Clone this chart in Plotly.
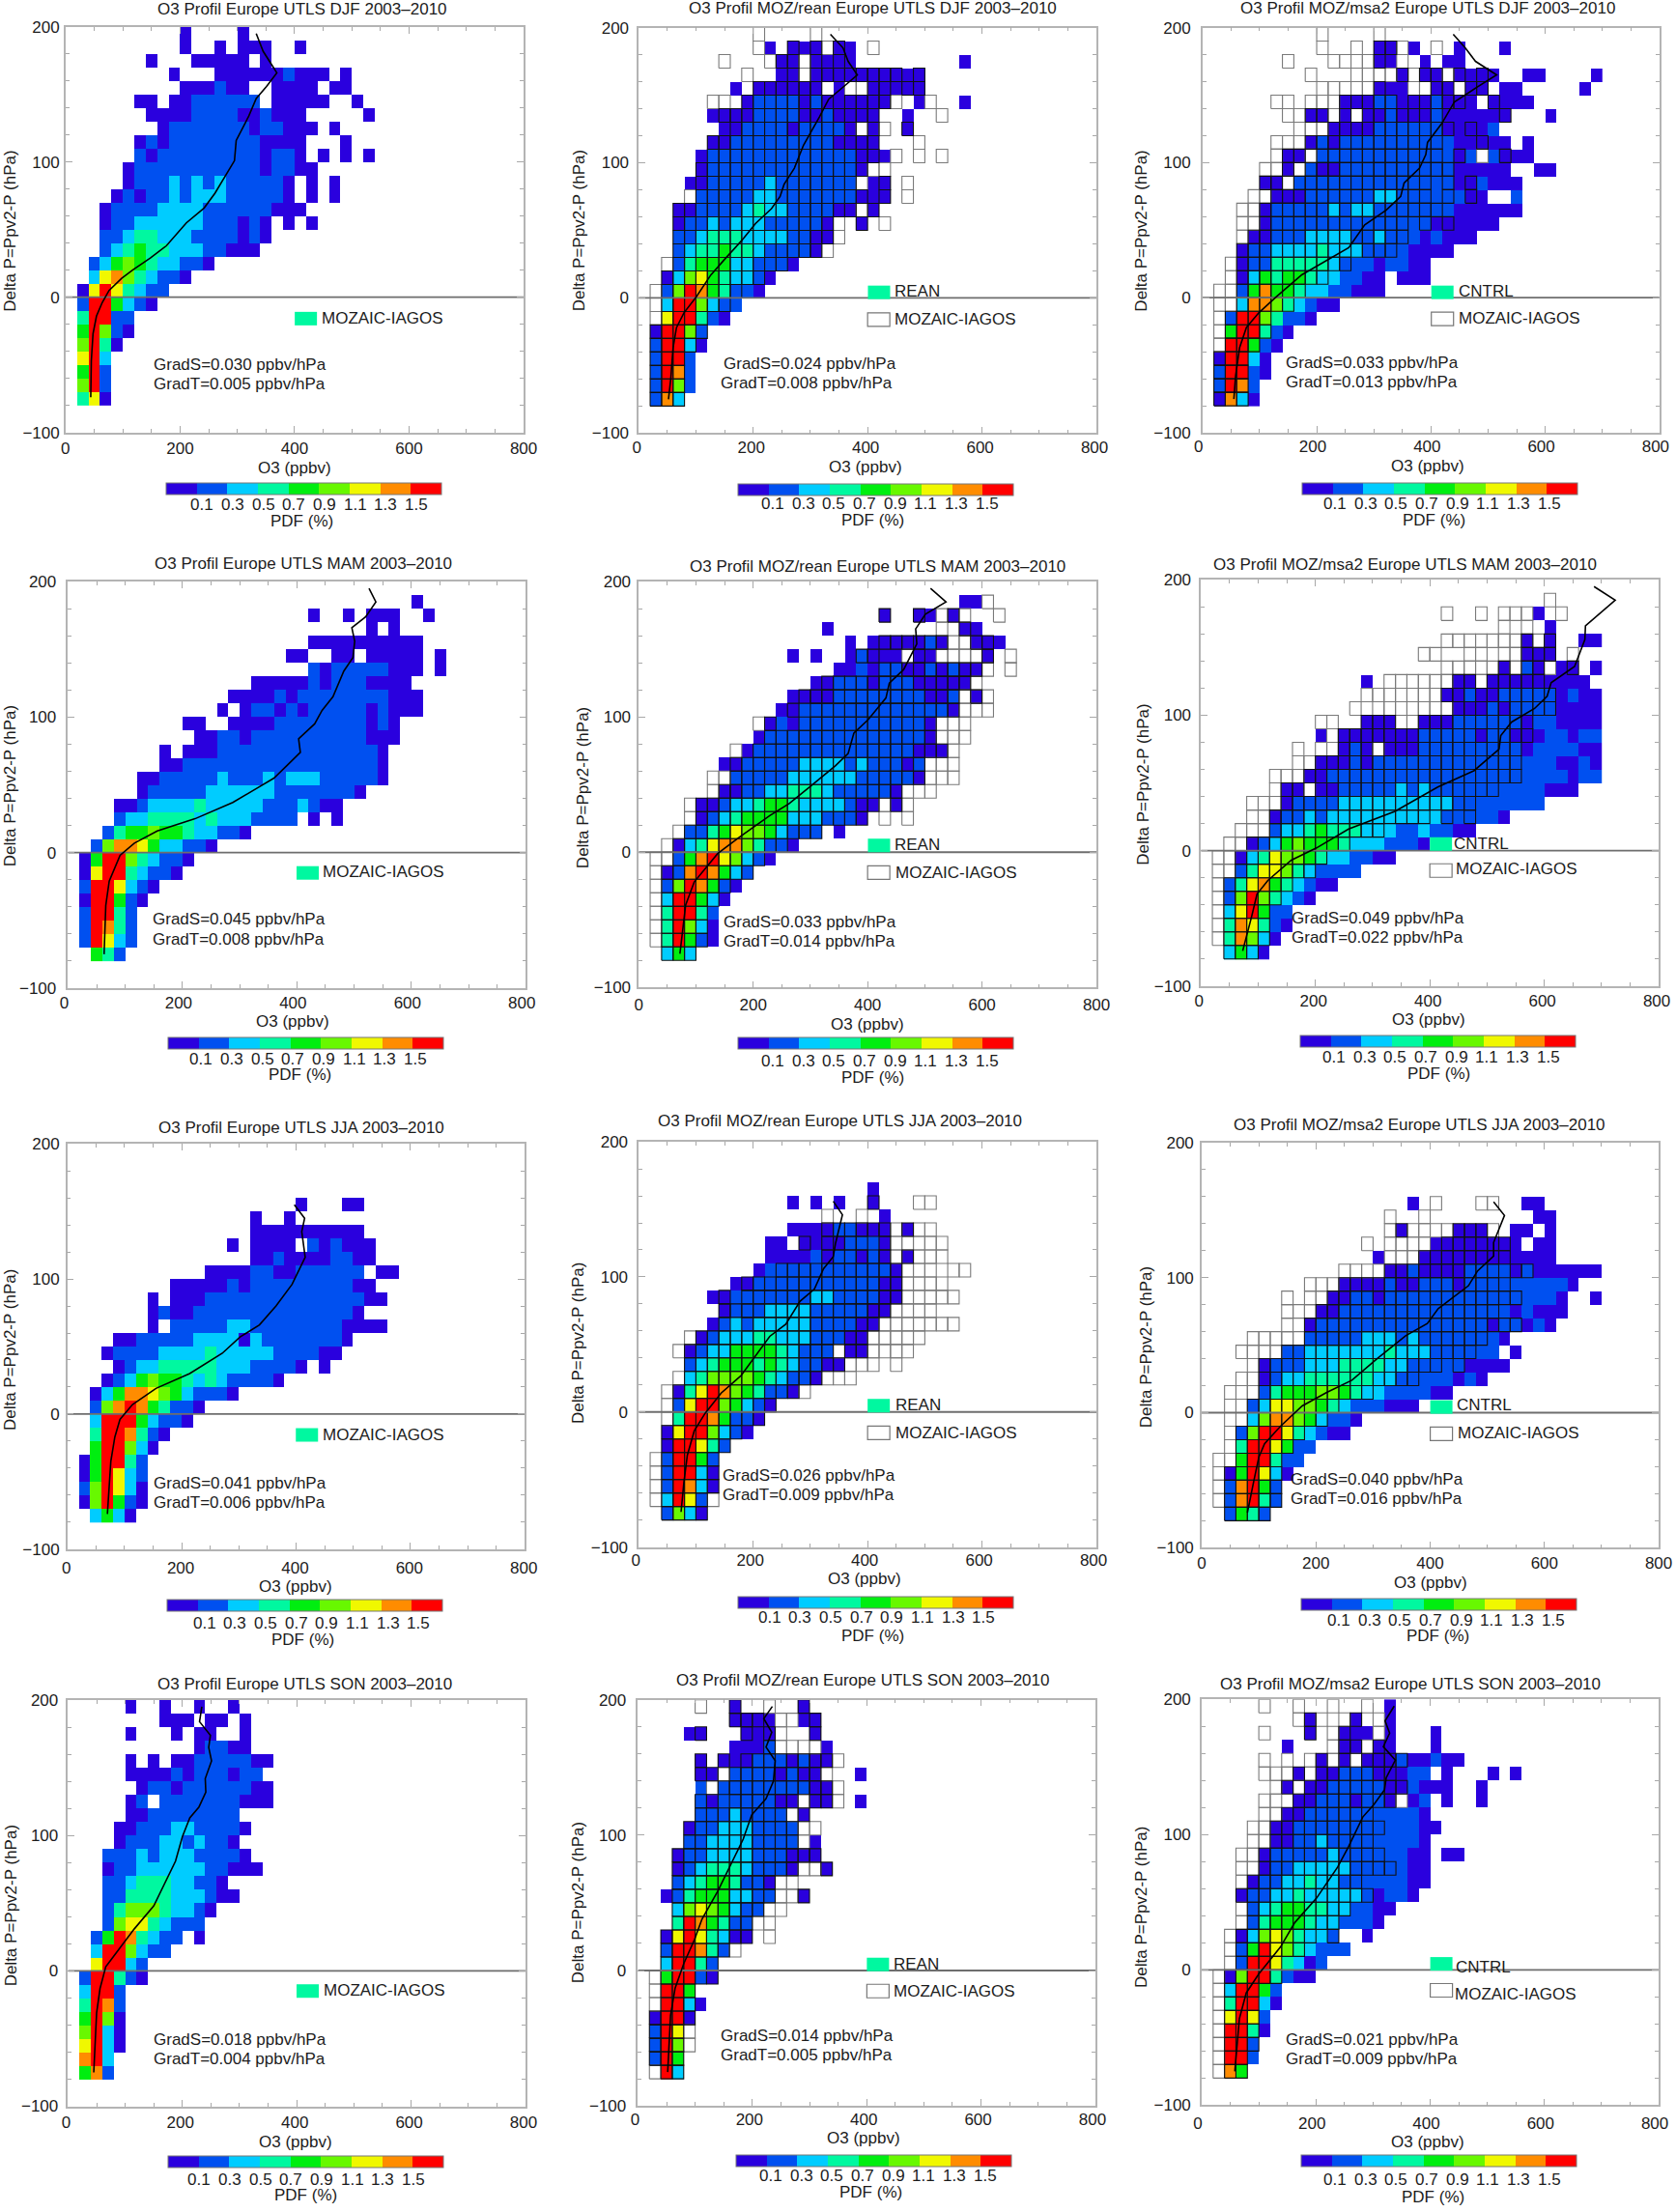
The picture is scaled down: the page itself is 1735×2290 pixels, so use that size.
import plotly.graph_objects as go

W, H = 1735, 2290
FONT = "Liberation Sans"
FS = 17
TXT = "#1c1c1c"

# colour classes of the PDF scale, lowest to highest
PDF_LEVELS = [0.0, 0.2, 0.4, 0.6, 0.8, 1.0, 1.2, 1.4, 1.6]
PDF_COLORS = ["#2a00de", "#0050f0", "#00ccff", "#00f8a0", "#00ee10",
              "#68f800", "#f0f800", "#ff8c00", "#ff0000"]
PDF_TICKS = [0.1, 0.3, 0.5, 0.7, 0.9, 1.1, 1.3, 1.5]

O3_EDGES = list(range(0, 720, 20))
DP_EDGES = list(range(-80, 210, 10))

# one string per row, top row first (190-200 hPa), "column:classes"
# column = O3 bin number (20 ppbv bins), classes = index into PDF_LEVELS
DJF_OBS = [
    "10:0 15:0", "10:0 13:0 15:000 20:0", "7:0 11:00000 17:0",
    "9:0 13:000000 19:1 20:000 24:0", "10:000 13:1 14:00 18:0000 23:00",
    "6:00 9:00 11:11111 16:1 18:00000 25:0", "7:0000 11:1111 15:00 17:1 18:000 26:0",
    "8:0 9:1111111 16:0 17:11 19:000 23:0", "6:0 7:1 8:0 9:11111111 17:0000 24:0",
    "6:1 7:0 8:111111111 17:0 18:11 20:0 22:0 24:0 26:0", "5:0 6:11111111111 17:0 18:11 20:00",
    "5:0 6:111 9:2 10:1 11:2 12:1 13:2 14:11111 19:0 21:0 23:0",
    "4:0 5:1 6:0 7:11 9:2 10:1 11:222 14:11111 19:0 21:0 23:0",
    "3:0 4:1111 8:2222 12:111111 18:000", "3:0 4:11 6:222222 12:111 15:0 16:1 17:0 19:0 21:0",
    "3:11 5:2 6:33 8:222 11:1111 15:0 16:1 17:0", "3:1 4:2 5:3 6:4 7:33 9:222 12:11 14:000",
    "2:1 3:2 4:4 5:5 6:4 7:3 8:22 10:11 12:0", "2:2 3:6 4:7 5:5 6:3 7:2 8:11 10:0",
    "1:0 2:6 3:8 4:6 5:3 6:2 7:11", "1:1 2:88 4:4 5:2 6:1 7:0", "1:3 2:88 4:11",
    "1:4 2:8 3:5 4:1 5:0", "1:5 2:8 3:3 4:0", "1:6 2:8 3:2", "1:4 2:8 3:1", "1:5 2:8 3:1", "1:3 2:6 3:0",
]
DJF_REAN = [
    "", "11:0 13:000 17:00", "12:00 15:0000 28:0", "12:00 15:0000000000",
    "8:0 10:000000 17:0 20:00000", "9:0 10:1111 14:0 15:1 16:000000 24:0 28:0",
    "6:0000 10:1111 14:00 16:1 17:0000 23:0", "7:00 9:1111 13:0 14:1111 18:0 20:0 23:0",
    "6:00 8:111111111 17:0000", "5:0 6:1111111111111 19:000", "5:0 6:1111111111111 19:0",
    "4:00 6:11111 11:2 12:1111111 20:00", "5:11111 10:22 12:1111111 19:000",
    "3:00 5:1111 9:2 10:3 11:22 13:1111 17:00 20:0", "3:0 4:11 6:2 7:1 8:222 11:11111 16:0 19:0",
    "3:11 5:2 6:333 9:2222 13:11 15:00", "3:1 4:2 5:33 7:4 8:33 10:2 11:1111 15:0",
    "3:1 4:3 5:444 8:22 10:111 13:0", "2:0 3:2 4:5 5:6 6:4 7:3 8:22 10:1 11:0",
    "2:1 3:5 4:8 5:7 6:4 7:3 8:11 10:0", "2:2 3:88 5:5 6:2 7:11", "2:6 3:88 5:3 6:1 7:0",
    "1:0 2:88 4:5 5:1", "1:1 2:88 4:2 5:0", "1:1 2:88 4:1", "1:1 2:8 3:7 4:1", "1:1 2:8 3:5 4:1", "1:1 2:7 3:2",
]
DJF_MSA2 = [
    "", "15:00 18:0 22:0 26:0", "15:00 19:0 21:00", "17:0 19:00 22:0000 28:00 34:0",
    "15:000 20:00 23:00 26:00 33:0", "12:000 15:11 17:000 20:1 21:000 25:0000",
    "9:00 12:0 14:00 16:1 17:000 20:1 21:000000 30:0", "11:0000 15:111111 21:0 22:000 25:1",
    "9:0 10:1 11:0 12:1111111111 22:00000 28:0",
    "7:00 10:1 11:1 12:111111111 21:1 22:0 23:1 25:1 26:000", "7:0 9:1 10:00 12:1111111111 22:00000 29:00",
    "5:00 8:11111111111111 22:00 24:1 25:000", "6:000 9:111111 15:22 17:111111 23:00 27:1",
    "5:0 6:11111 11:2 12:1 13:22 15:1111111 22:000000", "5:0 6:11111111111111 20:00 22:0000",
    "4:00 6:111 9:2222 13:11 15:2 16:111 19:0 20:1 21:000",
    "3:0 4:11 6:2222 10:3 11:222 14:1111 18:00 20:00",
    "3:0 4:11 6:33333 11:2 12:111 15:0 16:11 18:00", "3:0 4:2 5:4 6:3 7:44 9:3 10:22 12:11 14:00 17:000",
    "3:1 4:4 5:7 6:44 8:3 9:22 11:11 13:000", "3:2 4:77 6:5 7:3 8:2 9:1 10:00",
    "2:1 3:88 5:5 6:3 7:11 9:0", "2:4 3:88 5:3 6:1 7:0", "2:88 4:4 5:1 6:0", "1:0 2:88 4:2 5:0",
    "1:1 2:88 4:1 5:0", "1:1 2:8 3:7 4:1", "1:0 2:7 3:2 4:0",
]
MAM_OBS = [
    "", "30:0", "21:0 24:0 26:000 31:0", "26:0 28:0", "21:0000000000", "19:00 23:00 26:00000 32:0",
    "21:1 22:0 23:11111 28:000 32:0", "16:00000 21:1 22:0 23:111 26:0000",
    "14:0000 18:1 19:0 20:11111111 28:000", "13:0 15:0 16:11 18:0 19:1 20:0 21:11111 26:0 27:1 28:000",
    "10:00 14:0000 18:11111111 26:0 27:1 28:0", "11:00 13:11 15:0 16:1111111111 26:000",
    "8:0 10:000 13:11111111111111 27:0", "8:00 10:11111111111111111 27:0",
    "6:00 8:11111 13:2 14:111 17:2 18:1 19:222 22:11111 27:0", "6:0 7:11111 12:222222 18:1111111 25:0",
    "4:00 6:1 7:2222 11:3 12:22222 17:111 20:2 21:1 22:00", "4:1 5:22 7:3333 11:2 12:3 13:222 16:1111 21:0 23:0",
    "3:1 4:3 5:44 7:5 8:44 10:3 11:22 13:11 15:0", "2:1 3:5 4:77 6:6 7:4 8:22 10:11 12:0",
    "1:0 2:4 3:88 5:5 6:3 7:2 8:11 10:0", "1:0 2:6 3:88 5:3 6:2 7:11 9:0", "1:1 2:88 4:6 5:2 6:1 7:0",
    "1:0 2:88 4:4 5:1 6:0", "1:1 2:88 4:3 5:1", "1:1 2:8 3:7 4:3 5:1", "1:1 2:8 3:6 4:2 5:1", "2:4 3:3 4:1",
]
MAM_REAN = [
    "", "28:00", "21:0 24:00 27:0", "16:0 28:00", "18:0 20:00000 25:1 26:0 29:0 30:00",
    "13:0 15:0 18:0 19:1 20:000 24:00 30:0", "17:00 19:1 20:0 21:1 22:1 23:00 25:1 26:0 27:1 28:00",
    "15:00 17:111 20:0 21:111 24:00000", "13:0000 17:11111111 25:00 27:1 29:0",
    "12:00 14:1111111111111 27:0", "11:0 12:1 13:0 14:11111111111 25:0", "10:0 11:11111111111111 25:0",
    "9:0 10:11111111111111 24:000", "7:00 9:11111 14:2222 18:1 19:2 20:111 23:0 24:1",
    "8:11111 13:222222 19:11111 24:0", "7:00 9:11 11:22 13:333 16:2 17:11111 22:0",
    "5:00 7:1 8:22 10:3 11:44 13:3 14:2222 18:1 19:00 22:0", "5:0 6:1 7:2 8:3 9:4444 13:222 16:111 19:0",
    "4:11 6:3 7:4 8:6 9:55 11:4 12:2 13:111 17:0", "3:0 4:2 5:3 6:6 7:7 8:7 9:5 10:3 11:11 13:0",
    "3:1 4:4 5:7 6:8 7:6 8:5 9:2 10:1 11:0", "2:0 3:1 4:7 5:8 6:7 7:4 8:2 9:1", "2:1 3:5 4:8 5:7 6:4 7:1 8:0",
    "2:2 3:88 5:4 6:2 7:0", "2:3 3:88 5:3 6:1", "2:3 3:8 4:5 5:2 6:0", "2:3 3:8 4:4 5:1 6:0", "2:2 3:4 4:2",
]
MAM_MSA2 = [
    "", "", "29:0", "30:0", "28:0 30:0 33:00", "28:000", "26:0 28:1 29:0 31:00 34:0",
    "14:0 22:00 25:000000 31:000", "21:00 23:1 24:00 26:111 29:11 31:0 32:1 33:00",
    "22:000 25:1 26:0 27:1111 31:0000", "14:000 19:000 22:111111 28:0 29:111 31:0000",
    "10:0 12:0000000 19:11111 24:0 25:11 27:0 28:0 29:0 30:11 32:0 33:11",
    "12:0 13:1 14:0 16:000 19:111111111 28:0 29:1111 33:00", "10:000 13:1 14:0 15:1111111111111111 31:00 33:1 34:0",
    "9:00 11:1111111111111111111111 32:0 33:11", "7:00 10:00 12:11111 17:2 18:1 19:2 20:111111111111 30:000",
    "7:0 8:1111 12:2222222222 22:11111111", "6:0 7:11 9:2 10:1 11:2222222222 21:11111 26:0",
    "6:1 7:22 9:3 10:4 11:33 13:3 14:222 17:11 19:2 20:11 22:00", "4:0 5:1 6:2 7:4 8:5 9:44 11:4 12:3 13:222 16:111 19:0",
    "3:0 4:2 5:3 6:6 7:55 9:4 10:3 11:22 13:11 15:00", "3:1 4:3 5:66 7:5 8:3 9:2 10:1111",
    "2:1 3:3 4:6 5:7 6:4 7:3 8:2 9:1 10:00", "2:1 3:5 4:8 5:5 6:3 7:2 8:1 9:0", "2:2 3:6 4:8 5:4 6:11",
    "2:3 3:7 4:6 5:3 6:1 7:0", "2:3 3:7 4:5 5:2 6:0", "2:2 3:4 4:2 5:0",
]
JJA_OBS = [
    "", "", "", "", "20:0 24:00", "16:0 19:0", "16:0000000000", "14:0 16:0000 21:1 22:0 23:1 24:000",
    "16:00 18:1 19:0000 23:11 25:00", "12:0000 16:11 18:00 20:111111 27:00", "9:00000 14:1 15:0 16:111111111 25:00",
    "7:0 9:000 12:11111111111111 26:00", "7:0 8:1 9:00 11:11111111111111 25:0", "7:0 9:11111 14:22 16:11111111 24:0000",
    "4:00 6:11111 11:2222 15:0 16:2 17:1111111 24:0", "3:0 4:1111 8:2222 12:3 13:222 16:22 18:1111 22:00",
    "4:0 5:1 6:22 8:33333 13:222 16:1111 20:0 22:0", "3:0 4:1 5:2 6:4 7:5 8:44 10:3 11:2 12:3 13:2 14:1111 18:0",
    "2:0 3:2 4:4 5:77 7:6 8:5 9:4 10:2 11:111 14:0", "2:1 3:5 4:7 5:8 6:7 7:4 8:3 9:11 11:0",
    "2:2 3:888 6:4 7:2 8:11 10:0", "2:3 3:88 5:7 6:3 7:1 8:0", "2:4 3:88 5:5 6:2 7:0", "1:0 2:4 3:88 5:3 6:1",
    "1:0 2:4 3:8 4:6 5:2 6:1", "1:1 2:5 3:8 4:6 5:2 6:0", "1:0 2:5 3:8 4:4 5:1 6:0", "2:2 3:4 4:2 5:0",
]
JJA_REAN = [
    "", "", "", "20:0", "13:0 15:0 17:0 20:0", "21:0", "13:0000 17:11 19:000 23:0", "11:00 14:0000 18:111 21:0",
    "11:0000 15:1 16:00 17:11 19:0 20:1 21:0 23:0", "10:0 11:11111111111 22:0", "8:00 10:11111111111 21:00",
    "6:00 8:1111111 15:22 17:1111 21:00", "7:0 8:111 11:2222 15:11111 20:00", "6:0 7:1 8:2 9:1 10:22222 15:1111 19:00",
    "5:0 6:1 7:222 10:33 12:222 15:111 18:00", "4:0 5:1 6:22 8:4444 12:3 13:2 14:111 18:00",
    "4:1 5:2 6:3 7:444 10:3 11:4 12:3 13:2 14:11 16:00", "4:2 5:3 6:55 8:55 10:4 11:3 12:2 13:11 15:0",
    "3:0 4:3 5:6 6:8 7:7 8:5 9:4 10:3 11:11 13:0", "3:1 4:6 5:88 7:5 8:4 9:2 10:1 11:0", "3:3 4:88 6:7 7:4 8:11 10:0",
    "2:0 3:6 4:88 6:5 7:2 8:1 9:0", "2:0 3:88 5:6 6:3 7:1", "2:1 3:88 5:4 6:1", "2:1 3:88 5:2 6:0",
    "2:1 3:8 4:7 5:2 6:0", "2:2 3:8 4:6 5:1", "2:1 3:5 4:2 5:0",
]
JJA_MSA2 = [
    "", "", "", "", "18:0 28:00", "29:00", "17:0 22:000 27:00 30:0", "20:00000000 29:00",
    "15:0 19:000000000000", "16:00 18:1 19:0000 23:1111 27:0 28:1 29:0 30:00000", "12:0000 16:1 17:00 19:111 22:0 23:11111111 31:1 32:0",
    "11:00 13:11 15:0 16:111111111111111 31:0 34:0", "10:00 12:111111111111111 27:0 28:1 29:00 31:0",
    "9:0 10:111111111111111 25:0 26:11 28:0 29:1 30:0", "9:11111 14:222 17:1 18:2 19:1111111 26:0",
    "7:11 9:2222222 16:3 17:2 18:22 20:111111 27:0", "5:0 6:111 9:222 12:3333 16:22 18:11111 23:0 24:000",
    "5:0 6:1 7:22 9:333333 15:22 17:11111 22:0 23:1 24:0", "5:1 6:3 7:444 10:55 12:4 13:3 14:22 16:1111 20:00",
    "4:1 5:2 6:66 8:5 9:5 10:4 11:3 12:2 13:111 16:000", "4:2 5:5 6:77 8:5 9:4 10:2 11:11 13:0",
    "3:1 4:5 5:88 7:6 8:3 9:2 10:1 11:00", "3:3 4:88 6:6 7:4 8:11", "3:4 4:88 6:3 7:11", "2:0 3:4 4:8 5:6 6:2 7:0",
    "2:1 3:7 4:8 5:4 6:1", "2:1 3:7 4:8 5:3 6:1", "2:1 3:4 4:3 5:1",
]
SON_OBS = [
    "5:0 8:0 11:0 14:0", "8:000 12:00 15:0", "5:0 9:0 11:00 15:0", "11:0 12:11 14:00", "5:0 7:0 9:00 11:11 13:111 16:00",
    "5:0000 9:1 10:0 11:111 14:0 15:11", "6:0 7:11 9:0 10:111111 16:00", "5:0 6:1 8:1111111 15:000", "5:00 7:11111111",
    "4:00 6:111 9:22 11:1111 15:0", "4:0 5:111 8:22 10:1 11:2 12:11 14:0", "3:111 6:2 7:1 8:222 11:1111 15:0",
    "3:0 4:11 6:222222 12:11 14:000", "3:11 5:2 6:333 9:22 11:11 13:0", "3:11 5:3333 9:222 12:1 13:00",
    "3:1 4:3 5:555 8:3 9:22 11:1 12:0", "3:1 4:5 5:66 7:3 8:2 9:111", "2:1 3:4 4:8 5:7 6:3 7:2 8:11 11:0",
    "2:2 3:88 5:5 6:2 7:11", "2:6 3:88 5:2 6:1", "1:1 2:88 4:3 5:1 6:0", "1:2 2:88 4:1", "1:3 2:8 3:7 4:1",
    "1:4 2:8 3:5 4:0", "1:5 2:8 3:2 4:0", "1:6 2:8 3:2 4:0", "1:7 2:8 3:2", "1:4 2:7 3:1",
]
SON_REAN = [
    "8:0 14:0", "8:0000 14:00", "4:00 9:000 15:0", "8:000 11:1 16:0", "5:0 7:000 10:111 13:0 14:1 15:00",
    "5:00 8:1111 12:0 13:1 14:00 19:0", "5:1 7:1111111 14:1 15:00", "5:1 6:0 7:11111 12:00 15:00 19:0",
    "5:111 8:2 9:1111 14:0", "4:0 5:11 7:222 10:1111", "4:111 6:2222 10:1111 15:0", "3:0 4:11 6:2222 10:111 13:000",
    "3:0 4:1 5:2 6:333 9:2 10:111 13:0 16:0", "3:1 4:2 5:3 6:44 8:3 9:11 11:0", "2:0 3:1 4:3 5:444 8:2 9:2 10:11 14:0",
    "3:2 4:5 5:6 6:5 7:4 8:2 9:11", "3:3 4:8 5:7 6:4 7:3 8:11", "2:0 3:6 4:8 5:6 6:3 7:2 8:00", "2:1 3:88 5:7 6:3 7:1",
    "2:2 3:88 5:3 6:1", "2:4 3:88 5:1 6:0", "2:88 4:4", "2:88 4:2 5:0", "1:0 2:88 4:0", "1:1 2:8 3:6", "1:1 2:8 3:5",
    "1:1 2:8 3:4", "2:8 3:2",
]
SON_MSA2 = [
    "16:0", "9:0 13:0 16:0", "9:0 12:000 16:0 20:0", "7:0 12:00 15:00 20:0", "10:0 12:0 14:000 17:1 18:00 20:1 21:00",
    "8:0 10:00 12:111 15:000 18:11 21:0 25:0 27:0", "7:0 9:00 11:11111 16:00 18:1 19:000 24:0",
    "8:00 10:111 13:0 14:11 16:0 18:0 19:1 21:0 24:0", "7:00 9:1111111111 19:0", "6:00 8:11111111111 19:00",
    "6:00 8:11 10:2 11:11111111 19:0", "5:0 6:11111 11:2 12:111111 18:00 21:00", "5:0 6:11 8:22222 13:11111 18:00",
    "4:0 5:11 7:22 9:3 10:22 12:111111 18:00", "3:0 4:11 6:22 8:3 9:22222 14:1 15:0 16:11 18:0",
    "4:1 5:2 6:3 7:44 9:33 11:22 13:11 15:00", "4:1 5:3 6:444 9:3 10:22 12:111 15:0",
    "3:0 4:2 5:5 6:6 7:5 8:3 9:22 11:1 14:0", "3:1 4:4 5:8 6:6 7:5 8:3 9:2 10:111", "3:1 4:88 6:6 7:3 8:2 9:0 10:1",
    "2:0 3:5 4:88 6:3 7:1 8:00", "2:2 3:88 5:4 6:1", "2:3 3:88 5:2 6:0", "2:6 3:8 4:6 5:1", "2:88 4:3 5:0",
    "2:88 4:1", "2:88 4:1", "2:7 3:4",
]

# mean profiles (O3 ppbv, delta P hPa)
DJF_OBS_O3 = [333, 345, 360, 369, 351, 333, 320, 298, 295, 279, 261, 242, 211, 176, 148, 117, 98, 76, 64, 54, 48, 45, 44]
DJF_OBS_DP = [195, 182, 172, 166, 156, 147, 134, 116, 101, 90, 77, 66, 55, 38, 29, 20, 14, 5, -4, -14, -27, -47, -74]
DJF_REAN_O3 = [335, 357, 366, 382, 360, 332, 316, 288, 272, 254, 247, 232, 204, 179, 151, 126, 101, 79, 66, 60, 56, 52]
DJF_REAN_DP = [195, 185, 175, 165, 157, 147, 134, 113, 96, 84, 75, 66, 55, 42, 29, 17, 1, -11, -22, -37, -60, -75]
DJF_MSA2_O3 = [439, 460, 478, 515, 481, 441, 419, 394, 391, 380, 353, 347, 322, 284, 256, 218, 174, 130, 99, 77, 65, 58, 55]
DJF_MSA2_DP = [195, 185, 175, 165, 156, 145, 129, 115, 106, 96, 85, 75, 65, 54, 37, 28, 17, 1, -11, -22, -37, -58, -75]
MAM_OBS_O3 = [526, 538, 520, 496, 501, 498, 482, 463, 444, 431, 403, 406, 382, 360, 332, 288, 222, 156, 116, 91, 72, 66, 63]
MAM_OBS_DP = [195, 185, 174, 166, 156, 144, 134, 115, 105, 95, 84, 74, 64, 55, 48, 37, 25, 16, 7, -2, -21, -39, -75]
MAM_REAN_O3 = [510, 537, 501, 484, 486, 463, 438, 432, 401, 376, 366, 344, 301, 263, 229, 182, 138, 97, 82, 72]
MAM_REAN_DP = [195, 185, 176, 165, 154, 135, 125, 114, 98, 88, 73, 64, 49, 36, 27, 13, -1, -22, -39, -75]
MAM_MSA2_O3 = [687, 724, 672, 671, 653, 612, 605, 583, 543, 524, 521, 477, 414, 339, 258, 202, 158, 117, 98, 89, 73]
MAM_MSA2_DP = [195, 185, 166, 156, 136, 124, 114, 105, 95, 85, 75, 59, 47, 29, 16, 2, -7, -22, -32, -48, -74]
JJA_OBS_O3 = [397, 415, 410, 416, 393, 365, 336, 302, 271, 214, 155, 114, 92, 83, 76, 70]
JJA_OBS_DP = [155, 145, 135, 116, 96, 80, 66, 57, 45, 30, 19, 7, -4, -17, -35, -74]
JJA_REAN_O3 = [340, 356, 344, 340, 323, 307, 282, 257, 229, 201, 179, 144, 116, 97, 85, 79, 74]
JJA_REAN_DP = [156, 146, 125, 115, 106, 91, 82, 65, 56, 40, 27, 14, -1, -14, -32, -52, -74]
JJA_MSA2_O3 = [511, 530, 511, 511, 483, 467, 414, 395, 357, 307, 263, 219, 176, 138, 110, 100, 91, 80]
JJA_MSA2_DP = [156, 146, 126, 116, 105, 94, 77, 66, 57, 40, 24, 15, 5, -10, -23, -33, -51, -74]
SON_OBS_O3 = [234, 230, 249, 246, 251, 240, 241, 229, 213, 200, 188, 169, 150, 116, 88, 66, 56, 50, 45]
SON_OBS_DP = [195, 184, 174, 165, 155, 142, 132, 121, 113, 99, 81, 64, 48, 31, 15, 3, -13, -31, -75]
SON_REAN_O3 = [235, 220, 234, 224, 240, 237, 224, 199, 184, 165, 140, 112, 99, 80, 65, 57, 52]
SON_REAN_DP = [195, 186, 176, 165, 155, 140, 127, 115, 97, 81, 59, 38, 23, 5, -13, -33, -75]
SON_MSA2_O3 = [337, 321, 329, 318, 339, 323, 320, 301, 282, 257, 238, 201, 163, 138, 100, 78, 66, 58]
SON_MSA2_DP = [195, 184, 175, 165, 155, 142, 133, 122, 113, 91, 76, 53, 35, 17, -3, -17, -36, -75]

PANELS = [
    dict(title="O3 Profil Europe UTLS DJF 2003\u20132010", rows=DJF_OBS, o3=DJF_OBS_O3, dp=DJF_OBS_DP, obs=None, model=None, gs="0.030", gt="0.005"),
    dict(title="O3 Profil MOZ/rean Europe UTLS DJF 2003\u20132010", rows=DJF_REAN, o3=DJF_REAN_O3, dp=DJF_REAN_DP, obs=DJF_OBS, model="REAN", gs="0.024", gt="0.008"),
    dict(title="O3 Profil MOZ/msa2 Europe UTLS DJF 2003\u20132010", rows=DJF_MSA2, o3=DJF_MSA2_O3, dp=DJF_MSA2_DP, obs=DJF_OBS, model="CNTRL", gs="0.033", gt="0.013"),
    dict(title="O3 Profil Europe UTLS MAM 2003\u20132010", rows=MAM_OBS, o3=MAM_OBS_O3, dp=MAM_OBS_DP, obs=None, model=None, gs="0.045", gt="0.008"),
    dict(title="O3 Profil MOZ/rean Europe UTLS MAM 2003\u20132010", rows=MAM_REAN, o3=MAM_REAN_O3, dp=MAM_REAN_DP, obs=MAM_OBS, model="REAN", gs="0.033", gt="0.014"),
    dict(title="O3 Profil MOZ/msa2 Europe UTLS MAM 2003\u20132010", rows=MAM_MSA2, o3=MAM_MSA2_O3, dp=MAM_MSA2_DP, obs=MAM_OBS, model="CNTRL", gs="0.049", gt="0.022"),
    dict(title="O3 Profil Europe UTLS JJA 2003\u20132010", rows=JJA_OBS, o3=JJA_OBS_O3, dp=JJA_OBS_DP, obs=None, model=None, gs="0.041", gt="0.006"),
    dict(title="O3 Profil MOZ/rean Europe UTLS JJA 2003\u20132010", rows=JJA_REAN, o3=JJA_REAN_O3, dp=JJA_REAN_DP, obs=JJA_OBS, model="REAN", gs="0.026", gt="0.009"),
    dict(title="O3 Profil MOZ/msa2 Europe UTLS JJA 2003\u20132010", rows=JJA_MSA2, o3=JJA_MSA2_O3, dp=JJA_MSA2_DP, obs=JJA_OBS, model="CNTRL", gs="0.040", gt="0.016"),
    dict(title="O3 Profil Europe UTLS SON 2003\u20132010", rows=SON_OBS, o3=SON_OBS_O3, dp=SON_OBS_DP, obs=None, model=None, gs="0.018", gt="0.004"),
    dict(title="O3 Profil MOZ/rean Europe UTLS SON 2003\u20132010", rows=SON_REAN, o3=SON_REAN_O3, dp=SON_REAN_DP, obs=SON_OBS, model="REAN", gs="0.014", gt="0.005"),
    dict(title="O3 Profil MOZ/msa2 Europe UTLS SON 2003\u20132010", rows=SON_MSA2, o3=SON_MSA2_O3, dp=SON_MSA2_DP, obs=SON_OBS, model="CNTRL", gs="0.021", gt="0.009"),
]

# page layout, measured on crops of each panel and scaled to the page in fx/fy below
CROP_X = [0, 580, 1155]
CROP_Y = [0, 570, 1150, 1730]
BOXES = [
    (61, 487.3, 26, 418.3), (653, 1079, 26.7, 419), (1235.7, 1661, 26.7, 418.7),
    (63.3, 489.3, 600, 993.3), (653, 1079, 600, 992.7), (1234.3, 1660.3, 598.3, 991.3),
    (62.7, 488.3, 1182, 1574), (653, 1079, 1180, 1572), (1235, 1660.3, 1180.7, 1572.7),
    (63.3, 489, 1758, 2151), (652.3, 1078, 1757.7, 2150.7), (1235, 1660.3, 1757.3, 2150),
]
CBARS = [(154.3, 467.3), (745.3, 468), (1328.3, 467.7), (156, 1040.7), (745.3, 1040.7), (1327, 1039),
         (155.7, 1623), (745, 1620.3), (1327.3, 1622), (156, 2198.7), (744, 2198.3), (1327.3, 2198)]
# colour bar texts, pixels from the bar's left edge / top edge
CB_LABEL_DX = [6, 4.4, 2.6, 3, 4.4, 3, 6.7, 1.5, 7.8, 1, 4, 3.7]
CB_LABEL_DY = [22.8, 21, 21.4, 22.5, 25.3, 22.8, 24.6, 21.4, 22.8, 24.6, 21.4, 25.7]
CB_TITLE_DY = [39.2, 37.8, 38.2, 38.5, 42, 39.6, 41.4, 40, 38.9, 41.4, 38.5, 43.9]
CB_TITLE_X = [312.6, 903.3, 1484.6, 310.4, 903.3, 1489.5, 313.3, 903.3, 1488.4, 316.3, 901.1, 1483.5]
CB_LEN = 285
TITLES = [(281, 9), (870.7, 8.3), (1445, 8.3), (282.7, 582.3), (875, 585), (1424.3, 583.3),
          (280.7, 1166.7), (840, 1160), (1437.7, 1163.3), (284, 1742.3), (861.7, 1739.3), (1429, 1742.3)]
XTITLES = [(274, 452.7), (864, 451.7), (1445, 451), (272.7, 1025.7), (866, 1028.3), (1446.7, 1024),
           (275.3, 1610.3), (863.3, 1602.3), (1448.3, 1606.3), (275.3, 2185.7), (862.3, 2181.7), (1445, 2185.7)]
YTITLES = [(10, 224), (598.3, 223.3), (1179, 223.3), (9.5, 797.7), (600.7, 800), (1181, 796),
           (10, 1381.7), (597.3, 1375), (1183, 1379), (10, 1957.3), (596.7, 1954), (1179, 1958.3)]
GRADS = [(142.7, 142.7, 352.7, 371.7), (731.7, 729, 351.7, 370.7), (1313.3, 1313.3, 351, 370),
         (142, 142, 926.7, 945.7), (731.7, 731.7, 929.3, 948.3), (1318.3, 1318.3, 926, 944.7),
         (142.7, 142.7, 1510.3, 1529.3), (731, 731, 1502.7, 1521.7), (1317.3, 1317.3, 1506.7, 1525.3),
         (142.7, 142.7, 2086.7, 2105.3), (729, 729, 2082.7, 2101.7), (1313.3, 1313.3, 2086.7, 2105.3)]
XSHIFT = [0, -2, -4, -4, 0, -2, -1, -3, 0, -2, -3, -4]
XGAP = [14, 12, 12, 13, 16, 13, 17, 11, 14, 14, 12, 16]
YGAP = [4, 7, 9, 9, 5, 7, 5, 8, 5, 7, 9, 8]
# legend: colour patch (x0, top), its text (x, y), outlined box (x0, top), its text (x, y)
LEGENDS = [
    (274.3, 301.7, 299.3, 307.7, None, None, None, None),
    (866.3, 276.3, 890.7, 281.7, 866, 302.7, 891, 309),
    (1448.7, 276.3, 1473.7, 281.7, 1448.7, 302, 1473.7, 307.7),
    (276, 875.3, 300, 880.7, None, None, None, None),
    (866.3, 848.7, 891, 854.3, 866, 875, 892, 881.3),
    (1447.3, 847.3, 1469.3, 854, 1447.3, 873, 1471.7, 877.7),
    (275.3, 1457, 300.3, 1463.3, None, None, None, None),
    (866, 1428.7, 892.3, 1435, 866, 1455, 892.3, 1461.3),
    (1447.7, 1430, 1472, 1435, 1447.7, 1456, 1473.3, 1461.3),
    (276, 2033, 301.3, 2039, None, None, None, None),
    (865.3, 2007.3, 890.3, 2013.3, 865.3, 2033, 890.3, 2039.7),
    (1447.7, 2006.7, 1471, 2016, 1447.7, 2032.3, 1470.7, 2042.3),
]


def fx(i, x):
    ox = CROP_X[i % 3]
    return ox + (x - ox) * 1.1124


def fy(i, y):
    oy = CROP_Y[i // 3]
    return oy + (y - oy) * 1.0701


def row_cells(row):
    cells = {}
    for token in row.split():
        col, classes = token.split(":")
        for k, c in enumerate(classes):
            cells[int(col) + k] = int(c)
    return cells


def grid(rows):
    z = []
    for row in reversed(rows):  # heatmap rows go bottom to top
        cells = row_cells(row)
        z.append([PDF_LEVELS[cells[c]] if c in cells else None for c in range(len(O3_EDGES) - 1)])
    return z


def outline_path(obs_rows, model_rows, filled):
    # cell borders of the MOZAIC-IAGOS distribution, split on whether the model has that cell
    xs, ys = [], []
    for i, (row, model_row) in enumerate(zip(reversed(obs_rows), reversed(model_rows))):
        model_cells = row_cells(model_row)
        for c in row_cells(row):
            if (c in model_cells) != filled:
                continue
            x0, x1 = O3_EDGES[c], O3_EDGES[c + 1]
            y0, y1 = DP_EDGES[i], DP_EDGES[i + 1]
            xs += [x0, x1, x1, x0, x0, None]
            ys += [y0, y0, y1, y1, y0, None]
    return xs, ys


def px(x):
    return x / W


def py(y):
    return 1 - y / H


def page_label(x, y, text, anchor="center", angle=0):
    return dict(x=px(x), y=py(y), xref="paper", yref="paper", text=text, showarrow=False,
                xanchor=anchor, yanchor="middle", textangle=angle, xshift=-2 if anchor == "left" else 0,
                font=dict(family=FONT, size=FS, color=TXT))


def label(i, x, y, text, anchor="center", angle=0):
    return page_label(fx(i, x), fy(i, y), text, anchor, angle)


scale = []
n = len(PDF_COLORS)
for i, col in enumerate(PDF_COLORS):
    scale += [[i / n, col], [(i + 1) / n, col]]

fig = go.Figure()
annotations, shapes = [], []
tick_font = dict(family=FONT, size=FS, color=TXT)

for i, p in enumerate(PANELS):
    ax = i + 1
    x0, x1, top, bottom = BOXES[i]
    cx, cy = fx(i, CBARS[i][0]), fy(i, CBARS[i][1])
    fig.add_trace(go.Heatmap(
        x=O3_EDGES, y=DP_EDGES, z=grid(p["rows"]), xaxis=f"x{ax}", yaxis=f"y{ax}",
        colorscale=scale, zmin=-0.1, zmax=1.7, hoverongaps=False,
        colorbar=dict(orientation="h", lenmode="pixels", len=CB_LEN, thickness=12, thicknessmode="pixels",
                      x=px(cx), xanchor="left", y=py(cy), yanchor="top", xpad=0, ypad=0,
                      outlinecolor="#777777", outlinewidth=1, ticks="", showticklabels=False),
    ))
    if p["obs"]:
        for filled, color in [(False, "#7a7a7a"), (True, "#111111")]:
            ox, oy = outline_path(p["obs"], p["rows"], filled)
            fig.add_trace(go.Scatter(x=ox, y=oy, mode="lines", xaxis=f"x{ax}", yaxis=f"y{ax}",
                                     line=dict(color=color, width=1.1), showlegend=False, hoverinfo="skip"))
    fig.add_trace(go.Scatter(x=[0, 800], y=[0, 0], mode="lines", xaxis=f"x{ax}", yaxis=f"y{ax}",
                             line=dict(color="#6e6e6e", width=1.8), showlegend=False, hoverinfo="skip"))
    fig.add_trace(go.Scatter(x=p["o3"], y=p["dp"], mode="lines", xaxis=f"x{ax}", yaxis=f"y{ax}",
                             line=dict(color="black", width=1.6), showlegend=False))

    fig.update_layout(**{
        f"xaxis{ax}": dict(domain=[px(fx(i, x0)), px(fx(i, x1))], anchor=f"y{ax}", range=[0, 800], dtick=200, tick0=0,
                           ticks="inside", ticklen=7, tickcolor="#a8a8a8", mirror="ticks", showline=True,
                           linecolor="#b4b4b4", linewidth=1.5, showgrid=False, zeroline=False,
                           minor=dict(dtick=50, ticks="inside", ticklen=4, tickcolor="#a8a8a8"),
                           tickfont=tick_font, ticklabelshift=round(XSHIFT[i] * 1.11),
                           ticklabelstandoff=round(XGAP[i] * 1.07) - 15),
        f"yaxis{ax}": dict(domain=[py(fy(i, bottom)), py(fy(i, top))], anchor=f"x{ax}", range=[-100, 200], dtick=100, tick0=0,
                           ticks="inside", ticklen=7, tickcolor="#a8a8a8", mirror="ticks", showline=True,
                           linecolor="#b4b4b4", linewidth=1.5, showgrid=False, zeroline=False,
                           minor=dict(dtick=20, ticks="inside", ticklen=4, tickcolor="#a8a8a8"),
                           tickfont=tick_font, ticklabelstandoff=max(round(YGAP[i] * 1.11) - 3, 0)),
    })

    annotations.append(label(i, *TITLES[i], p["title"]))
    annotations.append(label(i, *XTITLES[i], "O3 (ppbv)"))
    annotations.append(label(i, *YTITLES[i], "Delta P=Ppv2-P (hPa)", angle=-90))
    sx, tx, sy, ty = GRADS[i]
    annotations.append(label(i, sx, sy, f"GradS={p['gs']} ppbv/hPa", anchor="left"))
    annotations.append(label(i, tx, ty, f"GradT={p['gt']} ppbv/hPa", anchor="left"))

    for t in PDF_TICKS:
        tick_x = cx + (t + 0.1) / 1.8 * CB_LEN + CB_LABEL_DX[i]
        annotations.append(page_label(tick_x, cy + CB_LABEL_DY[i], str(t)))
    annotations.append(page_label(CB_TITLE_X[i], cy + CB_TITLE_DY[i], "PDF (%)"))

    lx, ly, ltx, lty, bx, by, btx, bty = LEGENDS[i]
    shapes.append(dict(type="rect", xref="paper", yref="paper", x0=px(fx(i, lx)), x1=px(fx(i, lx) + 23),
                       y0=py(fy(i, ly)), y1=py(fy(i, ly) + 14),
                       fillcolor=PDF_COLORS[3], line=dict(width=0), layer="above"))
    if p["model"]:
        annotations.append(label(i, ltx, lty, p["model"], anchor="left"))
        shapes.append(dict(type="rect", xref="paper", yref="paper", x0=px(fx(i, bx)), x1=px(fx(i, bx) + 23),
                           y0=py(fy(i, by)), y1=py(fy(i, by) + 14),
                           fillcolor="white", line=dict(color="#777777", width=1.2), layer="above"))
        annotations.append(label(i, btx, bty, "MOZAIC-IAGOS", anchor="left"))
    else:
        annotations.append(label(i, ltx, lty, "MOZAIC-IAGOS", anchor="left"))

fig.update_layout(width=W, height=H, margin=dict(l=0, r=0, t=0, b=0, pad=0, autoexpand=False),
                  paper_bgcolor="white", plot_bgcolor="white", showlegend=False,
                  annotations=annotations, shapes=shapes)

fig.write_html("out.html", config=dict(displayModeBar=False), post_script="document.body.style.margin='0';")
